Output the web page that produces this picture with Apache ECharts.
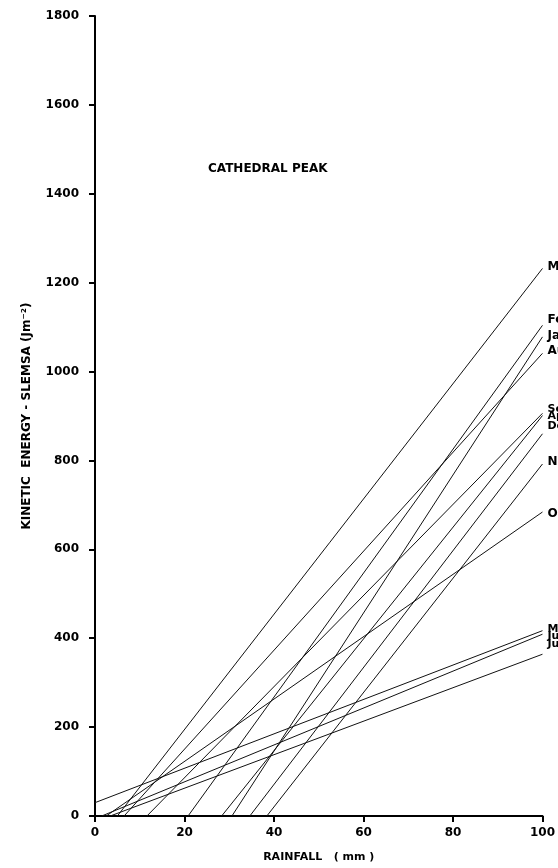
<!DOCTYPE html>
<html>
<head>
<meta charset="utf-8">
<script src="https://cdn.jsdelivr.net/npm/echarts@6/dist/echarts.min.js"></script>
<style>
  html, body { margin: 0; padding: 0; background: #fff; }
  #chart { width: 558px; height: 868px; }
</style>
</head>
<body>
<div id="chart"></div>
<script>
// month lines: rainfall where the line starts, energy there, energy at 100 mm
const months      = ['Mar', 'Feb', 'Jan', 'Aug', 'Sep', 'Apr', 'Dec', 'Nov', 'Oct', 'May', 'Jun', 'Jul'];
const startRain   = [5, 20.8, 30.6, 6.5, 11.6, 28.3, 34.6, 38.4, 2.5, 0, 1.5, 3.4];
const startEnergy = [0, 0, 0, 0, 0, 0, 0, 0, 0, 30, 0, 0];
const endEnergy   = [1232, 1104, 1078, 1041, 906, 901, 860, 792, 684, 417, 409, 364];
const endRain = 100;

// label nudges (px) so the stacked names read like the original
const labelDy = [-2, -5, -1, -2, -4, 1, -8, -2, 2, -2, 2, -10];

const FONT = '"DejaVu Sans", sans-serif';
const chart = echarts.init(document.getElementById('chart'));

const series = months.map((m, i) => ({
  name: m,
  type: 'line',
  data: [[startRain[i], startEnergy[i]], [endRain, endEnergy[i]]],
  symbol: 'none',
  silent: true,
  lineStyle: { color: '#111', width: 1 },
  endLabel: {
    show: true,
    formatter: m,
    distance: 5,
    offset: [0, labelDy[i]],
    color: '#000',
    fontFamily: FONT,
    fontWeight: 'bold',
    fontSize: i >= 4 && i <= 6 || i >= 9 ? 11 : 12
  }
}));

const option = {
  backgroundColor: '#fff',
  animation: false,
  title: {
    text: 'CATHEDRAL PEAK',
    left: 203,
    top: 158,
    textStyle: { fontFamily: FONT, fontWeight: 'bold', fontSize: 12, color: '#000' }
  },
  grid: { left: 95, right: 15, top: 16, bottom: 50, containLabel: false },
  xAxis: {
    type: 'value',
    min: 0, max: 100, interval: 20,
    name: 'RAINFALL   ( mm )',
    nameLocation: 'middle',
    nameGap: 36,
    nameTextStyle: { fontFamily: FONT, fontWeight: 'bold', fontSize: 11, color: '#000' },
    axisLine: { lineStyle: { color: '#000', width: 2 } },
    axisTick: { show: true, length: 6, lineStyle: { color: '#000', width: 2 } },
    axisLabel: { fontFamily: FONT, fontWeight: 'bold', fontSize: 12, color: '#000', margin: 11 },
    splitLine: { show: false }
  },
  yAxis: {
    type: 'value',
    min: 0, max: 1800, interval: 200,
    name: 'KINETIC  ENERGY - SLEMSA (Jm⁻²)',
    nameLocation: 'middle',
    nameRotate: 90,
    nameGap: 62,
    nameTextStyle: { fontFamily: FONT, fontWeight: 'bold', fontSize: 12, color: '#000' },
    axisLine: { lineStyle: { color: '#000', width: 2 } },
    axisTick: { show: true, length: 6, lineStyle: { color: '#000', width: 2 } },
    axisLabel: {
      fontFamily: FONT, fontWeight: 'bold', fontSize: 12, color: '#000', margin: 16,
      formatter: v => String(v)
    },
    splitLine: { show: false }
  },
  series: series
};

chart.setOption(option);
</script>
</body>
</html>
